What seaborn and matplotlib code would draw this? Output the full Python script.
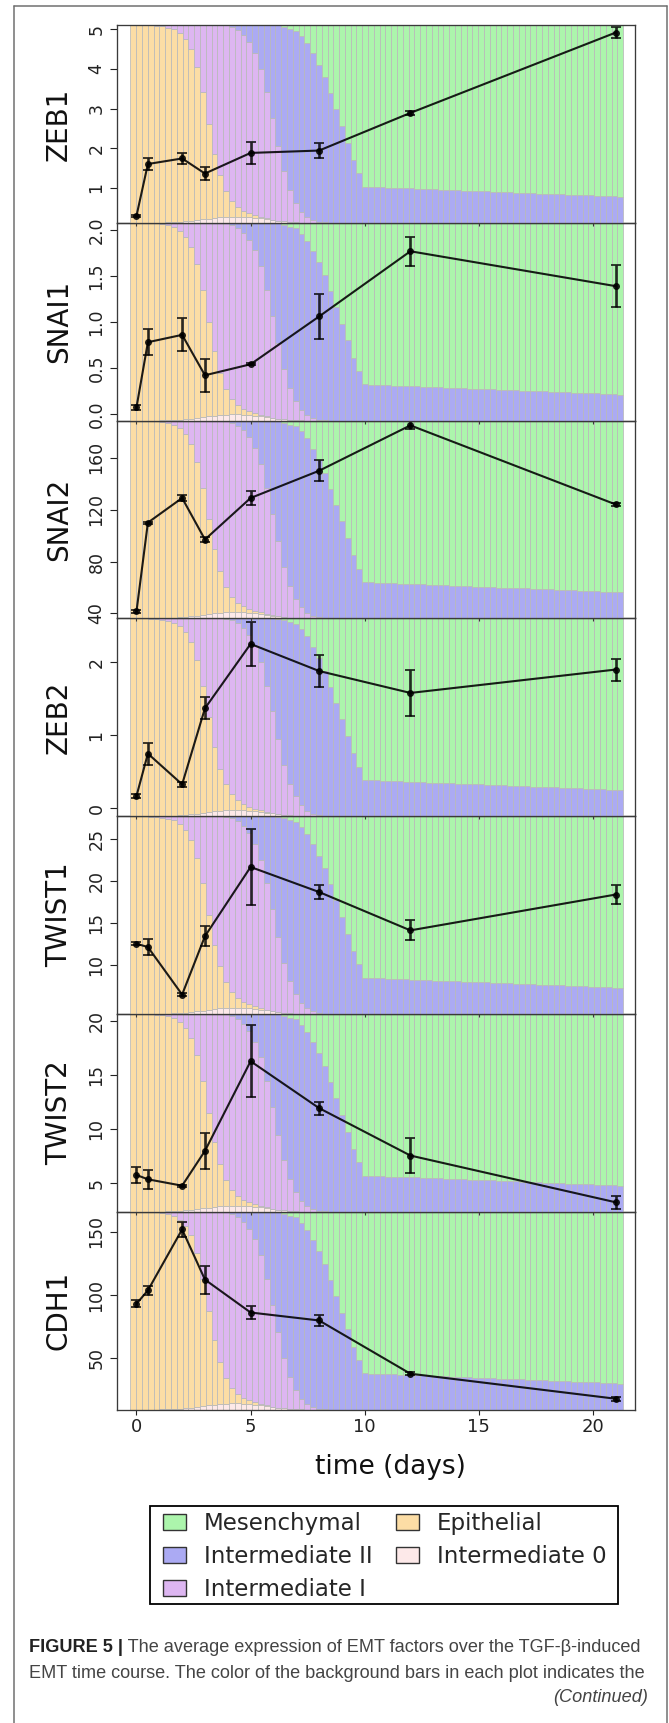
import numpy as np
import matplotlib
matplotlib.use("Agg")
import matplotlib.pyplot as plt
import seaborn as sns
from matplotlib.patches import Patch, Rectangle
from matplotlib.lines import Line2D
from matplotlib.text import Annotation

# ---------------------------------------------------------------------------
# Expression measurements (mean +/- error) at the sampled days
# ---------------------------------------------------------------------------
days = [0, 0.5, 2, 3, 5, 8, 12, 21]

zeb1 = [0.29, 1.60, 1.74, 1.36, 1.88, 1.94, 2.89, 4.92]
zeb1_err = [0.03, 0.15, 0.14, 0.17, 0.28, 0.18, 0.05, 0.15]

snai1 = [0.07, 0.78, 0.86, 0.42, 0.54, 1.06, 1.77, 1.39]
snai1_err = [0.03, 0.14, 0.18, 0.18, 0.01, 0.25, 0.16, 0.23]

snai2 = [41.5, 110, 129, 97, 129, 150, 185, 124]
snai2_err = [1.0, 0.8, 2.5, 2.0, 5.5, 8.0, 3.0, 1.5]

zeb2 = [0.17, 0.75, 0.33, 1.37, 2.25, 1.88, 1.58, 1.90]
zeb2_err = [0.03, 0.15, 0.03, 0.15, 0.30, 0.22, 0.32, 0.15]

twist1 = [12.5, 12.1, 6.4, 13.4, 21.7, 18.7, 14.1, 18.4]
twist1_err = [0.15, 1.0, 0.15, 1.2, 4.5, 0.85, 1.2, 1.1]

twist2 = [5.77, 5.37, 4.78, 8.0, 16.3, 11.96, 7.57, 3.24]
twist2_err = [0.7, 0.9, 0.1, 1.65, 3.35, 0.6, 1.65, 0.6]

cdh1 = [93.1, 103.7, 151.9, 112.2, 86.2, 79.9, 37.8, 18.0]
cdh1_err = [2.6, 3.3, 6.0, 11.0, 4.8, 4.6, 1.0, 1.5]

genes = ["ZEB1", "SNAI1", "SNAI2", "ZEB2", "TWIST1", "TWIST2", "CDH1"]

zeb1_ticks = ["1", "2", "3", "4", "5"]
snai1_ticks = ["0.0", "0.5", "1.0", "1.5", "2.0"]
snai2_ticks = ["40", "80", "120", "160"]
zeb2_ticks = ["0", "1", "2"]
twist1_ticks = ["10", "15", "20", "25"]
twist2_ticks = ["5", "10", "15", "20"]
cdh1_ticks = ["50", "100", "150"]

time_ticks = [0, 5, 10, 15, 20]

# ---------------------------------------------------------------------------
# Cell-state composition (%) of the simulated population, one value per
# quarter-day step from day 0 to day 21 (85 steps)
# ---------------------------------------------------------------------------
intermediate0 = [
    0, 0, 0, 0, 0,  0.1, 0.2, 0.3, 0.5, 0.7,
    1.0, 1.3, 1.7, 2.1, 2.5,  2.8, 3.0, 3.1, 3.1, 3.0,
    2.8, 2.5, 2.2, 1.8, 1.4,  1.0, 0.7, 0.4, 0.2, 0.1,
    0, 0, 0, 0, 0,  0, 0, 0, 0, 0,
    0, 0, 0, 0, 0,  0, 0, 0, 0, 0,
    0, 0, 0, 0, 0,  0, 0, 0, 0, 0,
    0, 0, 0, 0, 0,  0, 0, 0, 0, 0,
    0, 0, 0, 0, 0,  0, 0, 0, 0, 0,
    0, 0, 0, 0, 0,
]
epithelial = [
    100, 100, 100, 99.8, 99.7,  99.2, 98.5, 97.5, 95.5, 92.3,
    87.0, 77.7, 64.3, 47.9, 32.5,  21.2, 13.0, 7.9, 4.9, 3.0,
    2.0, 1.3, 0.8, 0.4, 0.1,  0, 0, 0, 0, 0,
    0, 0, 0, 0, 0,  0, 0, 0, 0, 0,
    0, 0, 0, 0, 0,  0, 0, 0, 0, 0,
    0, 0, 0, 0, 0,  0, 0, 0, 0, 0,
    0, 0, 0, 0, 0,  0, 0, 0, 0, 0,
    0, 0, 0, 0, 0,  0, 0, 0, 0, 0,
    0, 0, 0, 0, 0,
]
intermediate1 = [
    0, 0, 0, 0.2, 0.3,  0.7, 1.3, 2.2, 4.0, 7.0,
    12.0, 21.0, 34.0, 50.0, 65.0,  76.0, 83.8, 88.0, 89.5, 89.0,
    86.7, 82.2, 75.0, 63.8, 51.5,  38.0, 25.3, 16.1, 9.8, 5.4,
    2.8, 1.3, 0.5, 0.2, 0,  0, 0, 0, 0, 0,
    0, 0, 0, 0, 0,  0, 0, 0, 0, 0,
    0, 0, 0, 0, 0,  0, 0, 0, 0, 0,
    0, 0, 0, 0, 0,  0, 0, 0, 0, 0,
    0, 0, 0, 0, 0,  0, 0, 0, 0, 0,
    0, 0, 0, 0, 0,
]
intermediate2 = [
    0, 0, 0, 0, 0,  0, 0, 0, 0, 0,
    0, 0, 0, 0, 0,  0, 0.2, 1.0, 2.5, 5.0,
    8.5, 14.0, 22.0, 34.0, 47.0,  60.8, 73.0, 81.5, 87.2, 89.0,
    88.2, 84.4, 79.5, 73.4, 65.5,  57.4, 49.0, 40.5, 31.8, 25.0,
    18.3, 18.2, 18.1, 18.0, 17.8,  17.7, 17.6, 17.5, 17.4, 17.3,
    17.2, 17.0, 16.9, 16.8, 16.7,  16.6, 16.5, 16.3, 16.2, 16.1,
    16.0, 15.9, 15.8, 15.6, 15.5,  15.4, 15.3, 15.2, 15.1, 14.9,
    14.8, 14.7, 14.6, 14.5, 14.4,  14.2, 14.1, 14.0, 13.9, 13.8,
    13.7, 13.5, 13.4, 13.3, 13.1,
]
mesenchymal = [
    0, 0, 0, 0, 0,  0, 0, 0, 0, 0,
    0, 0, 0, 0, 0,  0, 0, 0, 0, 0,
    0, 0, 0, 0, 0,  0.2, 1.0, 2.0, 2.8, 5.5,
    9.0, 14.3, 20.0, 26.4, 34.5,  42.6, 51.0, 59.5, 68.2, 75.0,
    81.7, 81.8, 81.9, 82.0, 82.2,  82.3, 82.4, 82.5, 82.6, 82.7,
    82.8, 83.0, 83.1, 83.2, 83.3,  83.4, 83.5, 83.7, 83.8, 83.9,
    84.0, 84.1, 84.2, 84.4, 84.5,  84.6, 84.7, 84.8, 84.9, 85.1,
    85.2, 85.3, 85.4, 85.5, 85.6,  85.8, 85.9, 86.0, 86.1, 86.2,
    86.3, 86.5, 86.6, 86.7, 86.9,
]

state_names = ["Intermediate 0", "Epithelial", "Intermediate I",
               "Intermediate II", "Mesenchymal"]
state_colors = {
    "Intermediate 0": "#fde9e9",
    "Epithelial": "#fcdda5",
    "Intermediate I": "#ddb6f1",
    "Intermediate II": "#abaaf3",
    "Mesenchymal": "#acf5ac",
}

# ---------------------------------------------------------------------------
# Figure
# ---------------------------------------------------------------------------
sns.set_style("ticks")
plt.rcParams["font.family"] = ["DejaVu Sans"]

W, H = 669, 1723
fig = plt.figure(figsize=(W / 100, H / 100), dpi=100)


def fx(px):
    return px / W


def fy(px):
    return 1 - px / H


left_px, right_px = 117.3, 635.0
top_px, bottom_px = 25.0, 1409.5

panels = [
    (zeb1, zeb1_err, (0.116, 5.11), zeb1_ticks),
    (snai1, snai1_err, (-0.073, 2.08), snai1_ticks),
    (snai2, snai2_err, (36.2, 188.7), snai2_ticks),
    (zeb2, zeb2_err, (-0.105, 2.6), zeb2_ticks),
    (twist1, twist1_err, (4.08, 27.8), twist1_ticks),
    (twist2, twist2_err, (2.37, 20.68), twist2_ticks),
    (cdh1, cdh1_err, (9.5, 165.9), cdh1_ticks),
]
n = len(panels)
ph = (bottom_px - top_px) / n

shares = np.array([intermediate0, epithelial, intermediate1,
                   intermediate2, mesenchymal], dtype=float)
shares = shares / shares.sum(axis=0)
steps = np.arange(shares.shape[1])

ink = (0, 0, 0, 0.82)
spine_col = "#3a3a3a"

for k, (gene, (vals, errs, ylim, ticklabels)) in enumerate(zip(genes, panels)):
    y0 = top_px + k * ph
    rect = [fx(left_px), fy(y0 + ph), (right_px - left_px) / W, ph / H]

    # background: stacked composition bars
    bg = fig.add_axes(rect, zorder=100 - 2 * k - 1)
    base = np.zeros(len(steps))
    for name, share in zip(state_names, shares):
        bg.bar(steps, share, bottom=base, width=1.0, align="edge",
               color=state_colors[name], edgecolor="#b9b9b9", linewidth=0.55)
        base = base + share
    bg.set_xlim(-2.26, 87.04)
    bg.set_ylim(0, 1.0)
    bg.axis("off")

    # foreground: expression curve
    ax = fig.add_axes(rect, zorder=100 - 2 * k)
    ax.patch.set_alpha(0)
    sns.lineplot(x=days, y=vals, ax=ax, sort=False, errorbar=None,
                 color="black", linewidth=1.5, alpha=0.88,
                 marker="o", markersize=5.0, markeredgewidth=0)
    ax.errorbar(days, vals, yerr=errs, fmt="none", ecolor=ink,
                elinewidth=1.9, capsize=3.3, capthick=1.3)

    ax.set_xlim(-0.84, 21.84)
    ax.set_ylim(*ylim)
    ax.set_yticks([float(t) for t in ticklabels])
    ax.set_yticklabels(ticklabels, rotation=90, va="center")
    ax.tick_params(axis="y", length=5, width=0.8, pad=3.5, labelsize=12.5,
                   colors="#222222")
    ax.set_xticks(time_ticks)
    if k < n - 1:
        ax.tick_params(axis="x", length=2.2, width=0.8, labelbottom=False,
                       colors=spine_col)
    else:
        ax.set_xticklabels([str(t) for t in time_ticks])
        ax.tick_params(axis="x", length=3.6, width=0.8, pad=2.5,
                       labelsize=13, colors="#222222")
    for sp in ax.spines.values():
        sp.set_visible(True)
        sp.set_color(spine_col)
        sp.set_linewidth(0.95)
    ax.set_xlabel("")
    ax.set_ylabel("")

    fig.text(fx(59), fy(y0 + ph / 2), gene, rotation=90,
             ha="center", va="center", fontsize=20, color="#111111")

fig.text(fx(390), fy(1467), "time (days)", ha="center", va="center",
         fontsize=19, color="#111111")

# legend (frame drawn separately so padding can be set per side)
legend_order = ["Mesenchymal", "Intermediate II", "Intermediate I",
                "Epithelial", "Intermediate 0"]
handles = [Patch(facecolor=state_colors[s], edgecolor="#333333", linewidth=1.0)
           for s in legend_order]
leg = fig.legend(handles, legend_order, ncol=2, loc="upper left",
                 bbox_to_anchor=(fx(163.4), fy(1512.0)),
                 frameon=False, fontsize=16.5, handlelength=1.0,
                 handleheight=0.68, handletextpad=0.78, columnspacing=1.0,
                 labelspacing=0.44, borderpad=0, borderaxespad=0)
fig.add_artist(Rectangle((fx(150), fy(1604)), (618 - 150) / W, (1604 - 1505.7) / H,
                         transform=fig.transFigure, fill=False,
                         edgecolor="black", linewidth=1.3))

# outer frame of the figure panel
frame_col = "#707070"
fig.add_artist(Line2D([fx(14), fx(14)], [0, fy(6)], transform=fig.transFigure,
                      color=frame_col, lw=1.1))
fig.add_artist(Line2D([fx(14), fx(667)], [fy(6), fy(6)],
                      transform=fig.transFigure, color=frame_col, lw=1.1))
fig.add_artist(Line2D([fx(667), fx(667)], [0, fy(6)], transform=fig.transFigure,
                      color=frame_col, lw=1.1))

# caption
cap_font = ["Liberation Sans", "DejaVu Sans"]
cap_size = 13.1
t_bold = fig.text(fx(29), fy(1648), "FIGURE 5 |", family=cap_font,
                  fontsize=cap_size, fontweight="bold", va="center", ha="left",
                  color="#222222")
rest = Annotation(" The average expression of EMT factors over the TGF-\u03b2-induced",
                  xy=(1, 0.5), xycoords=t_bold, va="center", ha="left",
                  family=cap_font, fontsize=cap_size, color="#444444")
fig.add_artist(rest)
fig.text(fx(29), fy(1673.5),
         "EMT time course. The color of the background bars in each plot indicates the",
         family=cap_font, fontsize=cap_size, va="center", ha="left", color="#444444")
fig.text(fx(648), fy(1698), "(Continued)", family=cap_font, fontsize=cap_size,
         style="italic", va="center", ha="right", color="#444444")

fig.savefig("out.png", dpi=100, facecolor="white")
